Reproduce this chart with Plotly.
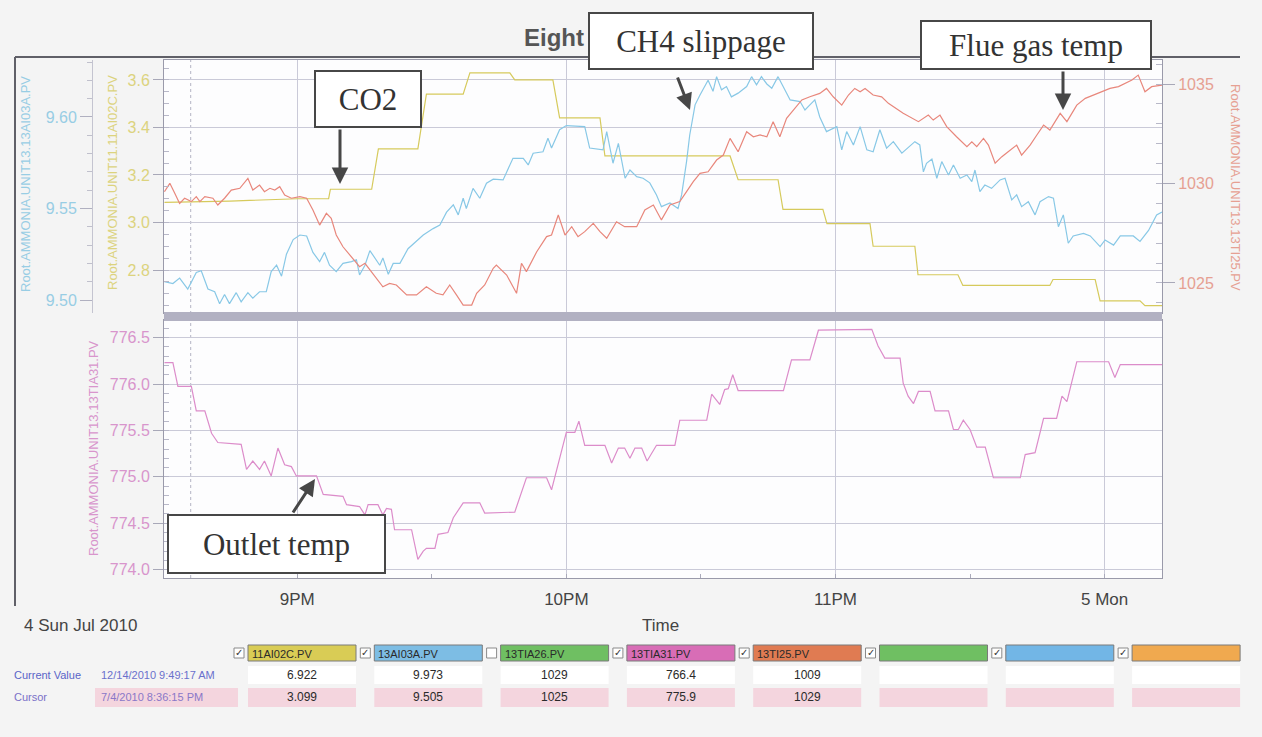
import pandas as pd
import plotly.graph_objects as go

W, H = 1262, 737
BASE = pd.Timestamp("2010-07-04 20:00:00")

# ---------------- data (time = minutes after 20:00 on 4 Jul 2010) ----------------
co2_min = [30.4, 45, 60, 67.0, 67.4, 76.6, 78.1, 86.9, 88.8, 97.0, 98.5, 107.4, 108.5, 117.0,
           118.5, 127.5, 128.6, 156.5, 158.3, 167.2, 168.3, 177.2, 178.1, 187.7, 188.4, 197.7,
           198.4, 207.3, 208.4, 227.8, 228.5, 237.9, 239.0, 247.9, 249.0, 252.8]
co2_val = [3.085, 3.09, 3.10, 3.10, 3.14, 3.14, 3.31, 3.31, 3.54, 3.54, 3.63, 3.63, 3.60, 3.60,
           3.44, 3.44, 3.28, 3.28, 3.18, 3.18, 3.055, 3.055, 2.995, 2.995, 2.90, 2.90,
           2.78, 2.78, 2.735, 2.735, 2.76, 2.76, 2.67, 2.67, 2.65, 2.65]

ch4_min = [30.4, 32.3, 33.8, 35.6, 37.5, 38.6, 40.1, 41.6, 42.7, 43.8, 44.9, 46.4, 47.5, 49.0,
           50.1, 51.6, 53.1, 54.2, 55.4, 56.5, 57.6, 59.1, 60.6, 62.1, 63.5, 65.0, 66.1, 67.2,
           68.7, 70.2, 72.1, 73.2, 73.9, 75.1, 76.2, 77.3, 78.4, 79.1, 80.3, 81.4, 82.9, 84.7,
           86.6, 88.1, 90.3, 91.8, 93.3, 94.8, 95.9, 97.0, 97.7, 99.2, 100.7, 102.2, 103.7,
           105.9, 108.1, 110.4, 111.5, 112.6, 114.8, 115.9, 116.7, 118.5, 120.0, 124.1, 125.2,
           128.2, 129.0, 130.4, 131.6, 133.1, 134.2, 135.7, 137.1, 138.6, 140.1, 141.2, 143.1,
           144.9, 145.7, 146.8, 147.5, 148.7, 149.8, 150.9, 151.6, 152.7, 153.5, 154.6, 155.7,
           156.8, 158.3, 160.2, 161.3, 162.4, 163.5, 164.7, 165.8, 167.2, 168.4, 169.9, 172.1,
           173.2, 174.3, 175.4, 176.5, 178.0, 180.3, 181.4, 182.5, 184.0, 185.5, 187.0, 188.4,
           189.9, 191.4, 192.9, 194.8, 196.6, 197.7, 198.8, 199.6, 200.3, 201.5, 202.6, 203.7,
           205.2, 206.3, 207.8, 209.3, 210.4, 211.1, 212.2, 213.3, 214.8, 216.7, 217.8, 219.3,
           220.4, 221.5, 223.0, 224.5, 225.6, 227.5, 228.6, 229.7, 230.8, 231.9, 233.0, 235.3,
           236.8, 239.0, 240.1, 242.0, 243.5, 246.4, 247.9, 249.8, 251.6, 252.8]
ch4_val = [9.510, 9.509, 9.512, 9.506, 9.515, 9.516, 9.506, 9.5045, 9.498, 9.503, 9.498, 9.504,
           9.499, 9.504, 9.501, 9.5045, 9.5045, 9.5155, 9.519, 9.513, 9.525, 9.533, 9.5355,
           9.535, 9.526, 9.521, 9.526, 9.519, 9.5155, 9.520, 9.521, 9.522, 9.5137, 9.519, 9.527,
           9.523, 9.519, 9.523, 9.514, 9.520, 9.520, 9.528, 9.532, 9.5355, 9.539, 9.541, 9.548,
           9.552, 9.5465, 9.5556, 9.550, 9.561, 9.5556, 9.5638, 9.566, 9.5656, 9.5774, 9.5774,
           9.5738, 9.5802, 9.581, 9.5884, 9.583, 9.593, 9.5953, 9.5947, 9.583, 9.582, 9.592,
           9.5747, 9.5856, 9.5665, 9.571, 9.5674, 9.5665, 9.564, 9.5574, 9.551, 9.553, 9.550,
           9.5574, 9.5756, 9.590, 9.6066, 9.612, 9.6166, 9.620, 9.614, 9.622, 9.6148, 9.6166,
           9.611, 9.613, 9.6166, 9.622, 9.6175, 9.622, 9.618, 9.6157, 9.622, 9.6166, 9.6093,
           9.6084, 9.6038, 9.6066, 9.6093, 9.600, 9.592, 9.5947, 9.582, 9.592, 9.5847, 9.5947,
           9.582, 9.581, 9.593, 9.583, 9.5865, 9.5802, 9.5838, 9.5865, 9.5847, 9.570, 9.5747,
           9.577, 9.5665, 9.5756, 9.5683, 9.5738, 9.5665, 9.5683, 9.5647, 9.571, 9.5592,
           9.5628, 9.561, 9.5656, 9.5665, 9.5547, 9.5574, 9.551, 9.5537, 9.5465, 9.5537,
           9.5565, 9.5556, 9.540, 9.5465, 9.531, 9.535, 9.5364, 9.535, 9.5292, 9.5328, 9.530,
           9.535, 9.535, 9.532, 9.538, 9.5465, 9.548]

flue_min = [30.4, 31.6, 32.7, 33.8, 34.9, 36.4, 37.5, 38.3, 39.4, 41.2, 42.3, 43.8, 45.3, 47.2,
            49.0, 50.1, 51.6, 52.7, 53.9, 55.0, 56.1, 57.2, 58.7, 60.6, 62.1, 63.5, 65.0, 66.5,
            67.6, 68.7, 70.2, 72.1, 73.9, 75.1, 76.2, 77.7, 79.1, 80.6, 82.1, 84.4, 86.6, 88.8,
            91.0, 92.5, 94.0, 95.5, 97.0, 98.9, 100.0, 101.8, 103.7, 104.4, 106.7, 108.9, 110.0,
            111.1, 113.4, 115.6, 116.7, 118.2, 119.7, 121.2, 122.6, 124.1, 126.0, 127.5, 129.0,
            131.2, 133.0, 135.7, 137.5, 139.4, 141.2, 143.1, 145.3, 146.8, 148.3, 149.8, 151.6,
            153.5, 155.0, 156.5, 158.3, 160.2, 161.7, 163.2, 164.7, 166.1, 167.6, 169.1, 170.6,
            172.5, 174.3, 176.5, 178.0, 179.5, 181.4, 182.9, 184.3, 185.5, 186.6, 188.4, 190.3,
            191.8, 195.1, 198.5, 200.7, 201.8, 203.3, 204.8, 207.0, 209.3, 210.4, 211.5, 213.0,
            214.1, 215.6, 217.1, 218.5, 220.4, 221.5, 223.4, 224.9, 226.4, 227.8, 230.1, 231.6,
            233.8, 235.7, 237.5, 239.4, 241.2, 243.1, 244.6, 246.1, 247.5, 249.0, 250.5, 252.8]
flue_val = [1029.59, 1030.01, 1029.51, 1029.0, 1029.26, 1029.09, 1029.34, 1029.09, 1029.34,
            1029.26, 1028.92, 1029.26, 1029.67, 1029.76, 1030.26, 1029.67, 1029.92, 1029.59,
            1029.76, 1029.67, 1029.84, 1029.42, 1029.26, 1029.34, 1029.26, 1028.67, 1027.91,
            1028.50, 1028.25, 1027.41, 1026.82, 1026.32, 1025.82, 1025.99, 1025.65, 1025.24,
            1024.81, 1024.98, 1024.90, 1024.40, 1024.40, 1024.81, 1024.48, 1024.40, 1024.90,
            1024.40, 1023.89, 1023.89, 1024.48, 1024.90, 1025.74, 1025.90, 1025.40, 1024.48,
            1025.99, 1025.57, 1026.57, 1027.33, 1027.41, 1028.42, 1027.41, 1027.83, 1027.33,
            1027.58, 1028.0, 1027.58, 1027.25, 1028.08, 1027.83, 1027.83, 1028.67, 1028.92,
            1028.17, 1028.92, 1029.09, 1029.59, 1030.09, 1030.51, 1030.59, 1031.18, 1031.43,
            1032.27, 1031.60, 1032.60, 1032.35, 1032.44, 1032.35, 1033.11, 1032.35, 1033.28,
            1033.69, 1034.20, 1034.36, 1034.53, 1034.78, 1034.36, 1033.94, 1034.45, 1034.78,
            1034.61, 1034.78, 1034.45, 1034.36, 1034.03, 1033.53, 1033.11, 1033.44, 1033.19,
            1033.44, 1032.86, 1032.35, 1031.85, 1032.10, 1031.85, 1032.27, 1031.93, 1031.02,
            1031.35, 1031.60, 1031.93, 1031.43, 1031.93, 1032.44, 1032.94, 1032.69, 1033.53,
            1033.11, 1033.94, 1034.28, 1034.45, 1034.61, 1034.78, 1034.87, 1035.03, 1035.20,
            1035.45, 1034.61, 1034.87, 1034.95]

outlet_min = [30.4, 32.3, 33.4, 36.4, 37.5, 39.4, 40.9, 42.3, 47.5, 48.7, 50.1, 51.6, 52.7,
              54.2, 55.7, 57.2, 58.7, 59.8, 64.3, 65.8, 70.2, 71.0, 73.9, 75.1, 75.8, 78.0,
              79.1, 79.9, 81.0, 81.7, 85.5, 86.9, 88.1, 88.8, 90.7, 91.4, 93.6, 94.8, 97.0,
              100.7, 101.8, 108.5, 111.1, 115.6, 116.7, 117.8, 120.0, 121.9, 122.8, 124.1,
              128.6, 130.1, 131.6, 133.0, 134.2, 135.3, 136.8, 138.0, 140.1, 144.2, 145.3,
              151.3, 152.4, 154.2, 155.3, 156.1, 157.1, 158.3, 168.4, 170.2, 174.3, 176.2,
              188.1, 189.5, 191.0, 194.4, 195.1, 196.2, 197.4, 198.5, 201.1, 202.2, 205.2,
              206.3, 207.4, 208.5, 210.0, 211.5, 213.4, 215.2, 221.2, 222.3, 224.5, 226.4,
              229.3, 230.5, 231.6, 233.8, 240.9, 242.3, 243.5, 252.8]
outlet_val = [776.23, 776.23, 775.975, 775.975, 775.71, 775.71, 775.47, 775.37, 775.35, 775.08,
              775.17, 775.08, 775.17, 775.01, 775.31, 775.13, 775.11, 775.01, 775.01, 774.81,
              774.79, 774.70, 774.68, 774.59, 774.70, 774.70, 774.59, 774.66, 774.65, 774.43,
              774.43, 774.11, 774.20, 774.23, 774.23, 774.38, 774.40, 774.56, 774.72, 774.72,
              774.61, 774.62, 774.99, 774.99, 774.86, 775.06, 775.48, 775.48, 775.60, 775.34,
              775.34, 775.15, 775.31, 775.31, 775.20, 775.31, 775.31, 775.17, 775.34, 775.34,
              775.61, 775.61, 775.89, 775.78, 775.94, 775.95, 776.10, 775.93, 775.93, 776.26,
              776.26, 776.58, 776.59, 776.41, 776.28, 776.28, 776.01, 775.87, 775.79, 775.92,
              775.92, 775.71, 775.71, 775.51, 775.51, 775.61, 775.51, 775.32, 775.32, 774.99,
              774.99, 775.24, 775.26, 775.63, 775.63, 775.87, 775.81, 776.24, 776.24, 776.07,
              776.21, 776.21]

cursor_min = 36.25  # 8:36:15 PM

hour_min = [60, 120, 180, 240]
hour_labels = ["9PM", "10PM", "11PM", "5 Mon"]

co2_ticks = [2.8, 3.0, 3.2, 3.4, 3.6]
ch4_ticks = [9.50, 9.55, 9.60]
flue_ticks = [1025, 1030, 1035]
outlet_ticks = [774.0, 774.5, 775.0, 775.5, 776.0, 776.5]

tag_names = ["11AI02C.PV", "13AI03A.PV", "13TIA26.PV", "13TIA31.PV", "13TI25.PV", "", "", ""]
tag_colors = ["#d9cc55", "#7dbde4", "#6fbf62", "#d86db6", "#e07b52", "#6fbf62", "#72b6e6", "#f0a94f"]
tag_checked = [True, True, False, True, True, True, True, True]
current_vals = ["6.922", "9.973", "1029", "766.4", "1009", "", "", ""]
cursor_vals = ["3.099", "9.505", "1025", "775.9", "1029", "", "", ""]
current_time = "12/14/2010 9:49:17 AM"
cursor_time = "7/4/2010 8:36:15 PM"

# ---------------- helpers ----------------
def tt(mins):
    return [(BASE + pd.Timedelta(minutes=float(m))).strftime("%Y-%m-%d %H:%M:%S") for m in mins]

def px(x):
    return x / W

def py(y):
    return 1 - y / H

X0, X1 = 164, 1162
TOP0, TOP1 = 60, 313
BOT0, BOT1 = 320, 578

C_YEL, C_BLU, C_RED, C_MAG = "#d6ca5c", "#88c8e6", "#e8877c", "#dc8cca"
T_YEL, T_BLU, T_RED, T_MAG = "#dcd37e", "#98cde4", "#e6a092", "#d895cc"
GRID = "#cacad8"
FRAME = "#9a9aaa"
TICKFONT = "Liberation Sans, Arial, sans-serif"

fig = go.Figure()
fig.add_trace(go.Scatter(x=tt(co2_min), y=co2_val, mode="lines", line=dict(color=C_YEL, width=1.2),
                         xaxis="x2", yaxis="y2", name="11AI02C.PV"))
fig.add_trace(go.Scatter(x=tt(ch4_min), y=ch4_val, mode="lines", line=dict(color=C_BLU, width=1.2),
                         xaxis="x2", yaxis="y3", name="13AI03A.PV"))
fig.add_trace(go.Scatter(x=tt(flue_min), y=flue_val, mode="lines", line=dict(color=C_RED, width=1.2),
                         xaxis="x2", yaxis="y4", name="13TI25.PV"))
fig.add_trace(go.Scatter(x=tt(outlet_min), y=outlet_val, mode="lines", line=dict(color=C_MAG, width=1.2),
                         xaxis="x", yaxis="y", name="13TIA31.PV"))

xrange = tt([30.3, 252.8])
common_x = dict(type="date", range=xrange, domain=[px(X0), px(X1)], showgrid=True, gridcolor=GRID,
                gridwidth=1, tickvals=tt(hour_min), ticktext=hour_labels, showline=True,
                linecolor=FRAME, linewidth=1, mirror=True, zeroline=False)

shapes = []
ann = []

fig.update_layout(
    width=W, height=H, margin=dict(l=0, r=0, t=0, b=0),
    paper_bgcolor="#f4f4f4", plot_bgcolor="#fdfdfe", showlegend=False,
    xaxis=dict(**common_x, anchor="y", ticks="", tickfont=dict(family=TICKFONT, size=17, color="#444"),
               ticklabelstandoff=6,
               minor=dict(dtick=30 * 60 * 1000, ticks="inside", ticklen=4, tickcolor="#aaaaba", showgrid=False)),
    xaxis2=dict(**common_x, anchor="y2", matches="x", showticklabels=False, ticks=""),
    yaxis=dict(domain=[py(BOT1), py(BOT0)], range=[773.91, 776.69], anchor="x", tickvals=outlet_ticks,
               tickformat=".1f", showgrid=True, gridcolor=GRID, zeroline=False, ticks="outside", ticklen=10,
               tickcolor="#a8a8b8", tickfont=dict(family=TICKFONT, size=16, color=T_MAG),
               showline=True, linecolor=FRAME, mirror=True,
               minor=dict(dtick=0.1, ticks="inside", ticklen=5, tickcolor="#b8b8c8", showgrid=False)),
    yaxis2=dict(domain=[py(TOP1), py(TOP0)], range=[2.619, 3.684], anchor="x2", tickvals=co2_ticks,
                tickformat=".1f", showgrid=True, gridcolor=GRID, zeroline=False, ticks="outside", ticklen=10,
                tickcolor="#a8a8b8", tickfont=dict(family=TICKFONT, size=16, color=T_YEL),
                showline=True, linecolor=FRAME, mirror=True,
                minor=dict(dtick=0.05, ticks="inside", ticklen=5, tickcolor="#b8b8c8", showgrid=False)),
    yaxis3=dict(overlaying="y2", anchor="free", position=px(92), side="left", range=[9.4929, 9.6311],
                tickvals=ch4_ticks, tickformat=".2f", showgrid=False, zeroline=False, ticks="outside",
                ticklen=12, tickcolor="#b0b0c0", tickfont=dict(family=TICKFONT, size=16, color=T_BLU),
                showline=True, linecolor="#c4c4d0",
                minor=dict(dtick=0.01, ticks="outside", ticklen=5, tickcolor="#c0c0cc", showgrid=False)),
    yaxis4=dict(overlaying="y2", anchor="x2", side="right", range=[1023.49, 1036.21], tickvals=flue_ticks,
                tickformat="d", showgrid=False, zeroline=False, ticks="outside", ticklen=12,
                tickcolor="#a8a8b8", tickfont=dict(family=TICKFONT, size=16, color=T_RED),
                minor=dict(dtick=1, ticks="inside", ticklen=6, tickcolor="#b8b8c8", showgrid=False)),
)

# cursor line
shapes.append(dict(type="line", xref="x", yref="paper", x0=tt([cursor_min])[0], x1=tt([cursor_min])[0],
                   y0=py(BOT1), y1=py(TOP0), line=dict(color="#b4b4c4", width=1, dash="dot"), layer="below"))
# separator bar between panes
shapes.append(dict(type="rect", xref="paper", yref="paper", x0=px(X0), x1=px(X1), y0=py(BOT0 + 1), y1=py(TOP1 - 1),
                   fillcolor="#b2b1c2", line=dict(width=0)))
# outer frame
shapes.append(dict(type="line", xref="paper", yref="paper", x0=px(15), x1=px(1240), y0=py(57), y1=py(57),
                   line=dict(color="#606068", width=2)))
shapes.append(dict(type="line", xref="paper", yref="paper", x0=px(15), x1=px(15), y0=py(57), y1=py(606),
                   line=dict(color="#606068", width=2)))

# axis titles
def vtitle(x, yc, text, color, angle=-90):
    ann.append(dict(xref="paper", yref="paper", x=px(x), y=py(yc), text=text, showarrow=False,
                    textangle=angle, font=dict(family=TICKFONT, size=13, color=color),
                    xanchor="center", yanchor="middle"))

vtitle(26, 184, "Root.AMMONIA.UNIT13.13AI03A.PV", T_BLU)
vtitle(113, 183, "Root.AMMONIA.UNIT11.11AI02C.PV", T_YEL)
vtitle(1236, 187, "Root.AMMONIA.UNIT13.13TI25.PV", T_RED, 90)
vtitle(93, 448, "Root.AMMONIA.UNIT13.13TIA31.PV", T_MAG)

# date / time labels
ann.append(dict(xref="paper", yref="paper", x=px(22), y=py(625), text="4 Sun Jul 2010", showarrow=False,
                xanchor="left", yanchor="middle", font=dict(family=TICKFONT, size=17, color="#444")))
ann.append(dict(xref="paper", yref="paper", x=px(660), y=py(625), text="Time", showarrow=False,
                xanchor="center", yanchor="middle", font=dict(family=TICKFONT, size=17, color="#444")))

# title (its end is hidden behind the callout box, as in the original)
ann.append(dict(xref="paper", yref="paper", x=px(586), y=py(38), text="<b>Eight</b>",
                showarrow=False, xanchor="right", yanchor="middle",
                font=dict(family=TICKFONT, size=24, color="#555")))

# callout boxes
def box(x0, y0, x1, y1, text):
    ann.append(dict(xref="paper", yref="paper", x=px(x0), y=py(y0), xanchor="left", yanchor="top",
                    width=x1 - x0 - 4, height=y1 - y0 - 4, text=text, showarrow=False, bgcolor="#ffffff",
                    bordercolor="#474747", borderwidth=2, borderpad=0, align="center", valign="middle",
                    font=dict(family="Liberation Serif, Times New Roman, serif", size=31, color="#333")))

def arrow(tx, ty, fx, fy):
    ann.append(dict(xref="paper", yref="paper", x=px(tx), y=py(ty), ax=fx - tx, ay=fy - ty, text="",
                    showarrow=True, arrowhead=2, arrowsize=1.1, arrowwidth=3, arrowcolor="#474747", standoff=0))

box(314, 70, 422, 128, "CO2")
box(588, 12, 814, 70, "CH4 slippage")
box(920, 20, 1152, 70, "Flue gas temp")
box(167, 514, 386, 574, "Outlet temp")
arrow(340, 184, 340, 128)
arrow(690, 110, 677, 76)
arrow(1063, 110, 1063, 70)
arrow(315, 479, 292, 514)

# ---------------- table ----------------
TF = "Liberation Sans Narrow, Arial Narrow, Liberation Sans, Arial, sans-serif"
col_x0, col_pitch, col_w = 248, 126.3, 108
for i, name in enumerate(tag_names):
    x0 = col_x0 + i * col_pitch
    shapes.append(dict(type="rect", xref="paper", yref="paper", x0=px(x0), x1=px(x0 + col_w),
                       y0=py(661), y1=py(645), fillcolor=tag_colors[i], line=dict(color="#7a7a7a", width=1)))
    shapes.append(dict(type="rect", xref="paper", yref="paper", x0=px(x0 - 14), x1=px(x0 - 4),
                       y0=py(658), y1=py(648), fillcolor="#ffffff", line=dict(color="#8a8a8a", width=1)))
    if tag_checked[i]:
        ann.append(dict(xref="paper", yref="paper", x=px(x0 - 9), y=py(652), text="✓", showarrow=False,
                        xanchor="center", yanchor="middle", font=dict(family="DejaVu Sans", size=10, color="#333")))
    if name:
        ann.append(dict(xref="paper", yref="paper", x=px(x0 + 2), y=py(653.5), text=name, showarrow=False,
                        xanchor="left", yanchor="middle", font=dict(family=TF, size=11, color="#2a2a2a")))
    shapes.append(dict(type="rect", xref="paper", yref="paper", x0=px(x0), x1=px(x0 + col_w),
                       y0=py(684), y1=py(666), fillcolor="#ffffff", line=dict(width=0)))
    shapes.append(dict(type="rect", xref="paper", yref="paper", x0=px(x0), x1=px(x0 + col_w),
                       y0=py(707), y1=py(688), fillcolor="#f4d5de", line=dict(width=0)))
    if current_vals[i]:
        ann.append(dict(xref="paper", yref="paper", x=px(x0 + col_w / 2), y=py(675), text=current_vals[i],
                        showarrow=False, xanchor="center", yanchor="middle",
                        font=dict(family=TF, size=12, color="#2a2a2a")))
    if cursor_vals[i]:
        ann.append(dict(xref="paper", yref="paper", x=px(x0 + col_w / 2), y=py(697), text=cursor_vals[i],
                        showarrow=False, xanchor="center", yanchor="middle",
                        font=dict(family=TF, size=12, color="#2a2a2a")))

shapes.append(dict(type="rect", xref="paper", yref="paper", x0=px(95), x1=px(238), y0=py(707), y1=py(688),
                   fillcolor="#f4d5de", line=dict(width=0)))
ann.append(dict(xref="paper", yref="paper", x=px(12), y=py(675), text="Current Value", showarrow=False,
                xanchor="left", yanchor="middle", font=dict(family=TF, size=11, color="#5a64c8")))
ann.append(dict(xref="paper", yref="paper", x=px(99), y=py(675), text=current_time, showarrow=False,
                xanchor="left", yanchor="middle", font=dict(family=TF, size=11, color="#6a70cc")))
ann.append(dict(xref="paper", yref="paper", x=px(12), y=py(697), text="Cursor", showarrow=False,
                xanchor="left", yanchor="middle", font=dict(family=TF, size=11, color="#7a70c8")))
ann.append(dict(xref="paper", yref="paper", x=px(99), y=py(697), text=cursor_time, showarrow=False,
                xanchor="left", yanchor="middle", font=dict(family=TF, size=11, color="#8a78c8")))

fig.update_layout(shapes=shapes, annotations=ann)
fig.write_html("out.html", config={"displayModeBar": False},
               post_script="document.body.style.margin='0px';document.body.style.overflow='hidden';")
